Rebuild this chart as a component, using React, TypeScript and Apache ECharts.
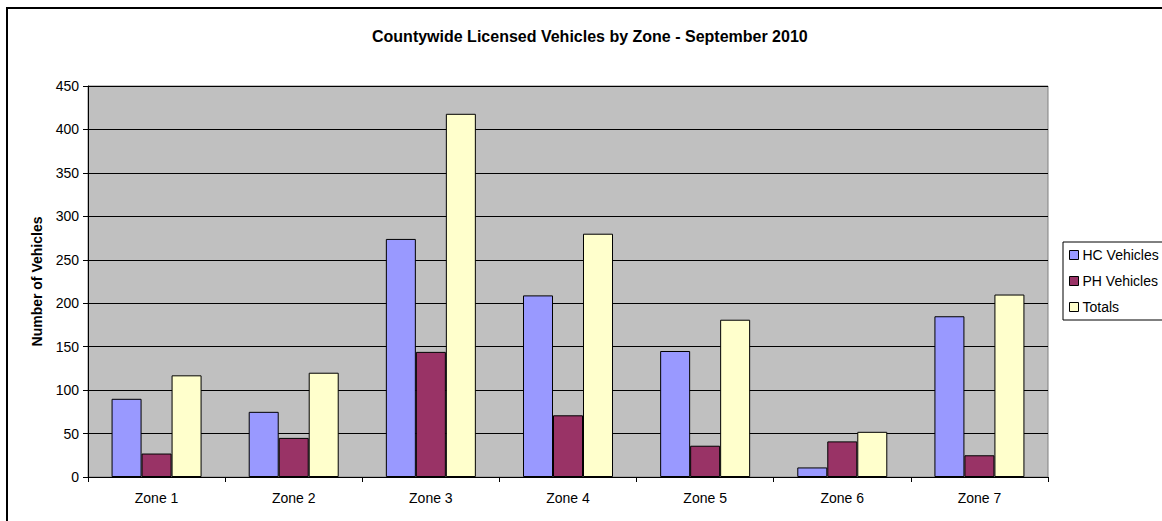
import React, { useEffect, useRef } from "react";
import * as echarts from "echarts";

const categories = ["Zone 1", "Zone 2", "Zone 3", "Zone 4", "Zone 5", "Zone 6", "Zone 7"];
const hcVehicles = [90, 75, 274, 209, 145, 11, 185];
const phVehicles = [27, 45, 144, 71, 36, 41, 25];
const totals = [117, 120, 418, 280, 181, 52, 210];
const seriesNames = ["HC Vehicles", "PH Vehicles", "Totals"];
const seriesColors = ["#9999FF", "#993366", "#FFFFCC"];

const FONT = "'Liberation Sans', Arial, sans-serif";

export default function App() {
  const ref = useRef<HTMLDivElement>(null);
  useEffect(() => {
    if (!ref.current) return;
    const chart = echarts.init(ref.current, undefined, { renderer: "svg" });
    const data = [hcVehicles, phVehicles, totals];
    chart.setOption({
      animation: false,
      backgroundColor: "#ffffff",
      textStyle: { fontFamily: FONT, color: "#000" },
      graphic: [
        {
          type: "rect",
          shape: { x: 7, y: 8, width: 1200, height: 600 },
          style: { fill: "none", stroke: "#000", lineWidth: 2 },
          silent: true,
        },
        {
          type: "text",
          left: 372,
          top: 28,
          style: {
            text: "Countywide Licensed Vehicles by Zone - September 2010",
            font: `bold 16px ${FONT}`,
            fill: "#000",
          },
        },
      ],
      grid: {
        left: 88,
        top: 86,
        right: 114,
        bottom: 44,
        show: true,
        backgroundColor: "#C0C0C0",
        borderColor: "#808080",
        borderWidth: 1,
      },
      legend: {
        orient: "vertical",
        left: 1063,
        top: 242,
        data: seriesNames,
        icon: "rect",
        itemWidth: 9,
        itemHeight: 9,
        itemGap: 12,
        padding: [6, 20, 6, 6],
        borderColor: "#000",
        borderWidth: 1,
        backgroundColor: "#fff",
        textStyle: { fontFamily: FONT, fontSize: 14, color: "#000", padding: [0, 0, 0, -1] },
        itemStyle: { borderColor: "#000", borderWidth: 1 },
      },
      xAxis: {
        type: "category",
        data: categories,
        axisLine: { lineStyle: { color: "#000", width: 1 } },
        axisTick: { show: true, alignWithLabel: false, length: 5, lineStyle: { color: "#000" } },
        axisLabel: { fontFamily: FONT, fontSize: 14, color: "#000", margin: 14 },
        splitLine: { show: false },
      },
      yAxis: {
        type: "value",
        min: 0,
        max: 450,
        interval: 50,
        name: "Number of Vehicles",
        nameLocation: "middle",
        nameGap: 44,
        nameTextStyle: { fontFamily: FONT, fontSize: 14, fontWeight: "bold", color: "#000" },
        axisLine: { show: true, lineStyle: { color: "#000", width: 1 } },
        axisTick: { show: true, length: 5, lineStyle: { color: "#000" } },
        axisLabel: { fontFamily: FONT, fontSize: 14, color: "#000", margin: 9 },
        splitLine: { show: true, lineStyle: { color: "#000", width: 1 } },
      },
      series: seriesNames.map((name, i) => ({
        name,
        type: "bar",
        data: data[i],
        barWidth: 30,
        barGap: "0%",
        itemStyle: { color: seriesColors[i], borderColor: "#000", borderWidth: 1 },
      })),
    });
    return () => chart.dispose();
  }, []);
  return (
    <div
      ref={ref}
      style={{ position: "fixed", left: 0, top: 0, width: 1162, height: 521 }}
    />
  );
}
